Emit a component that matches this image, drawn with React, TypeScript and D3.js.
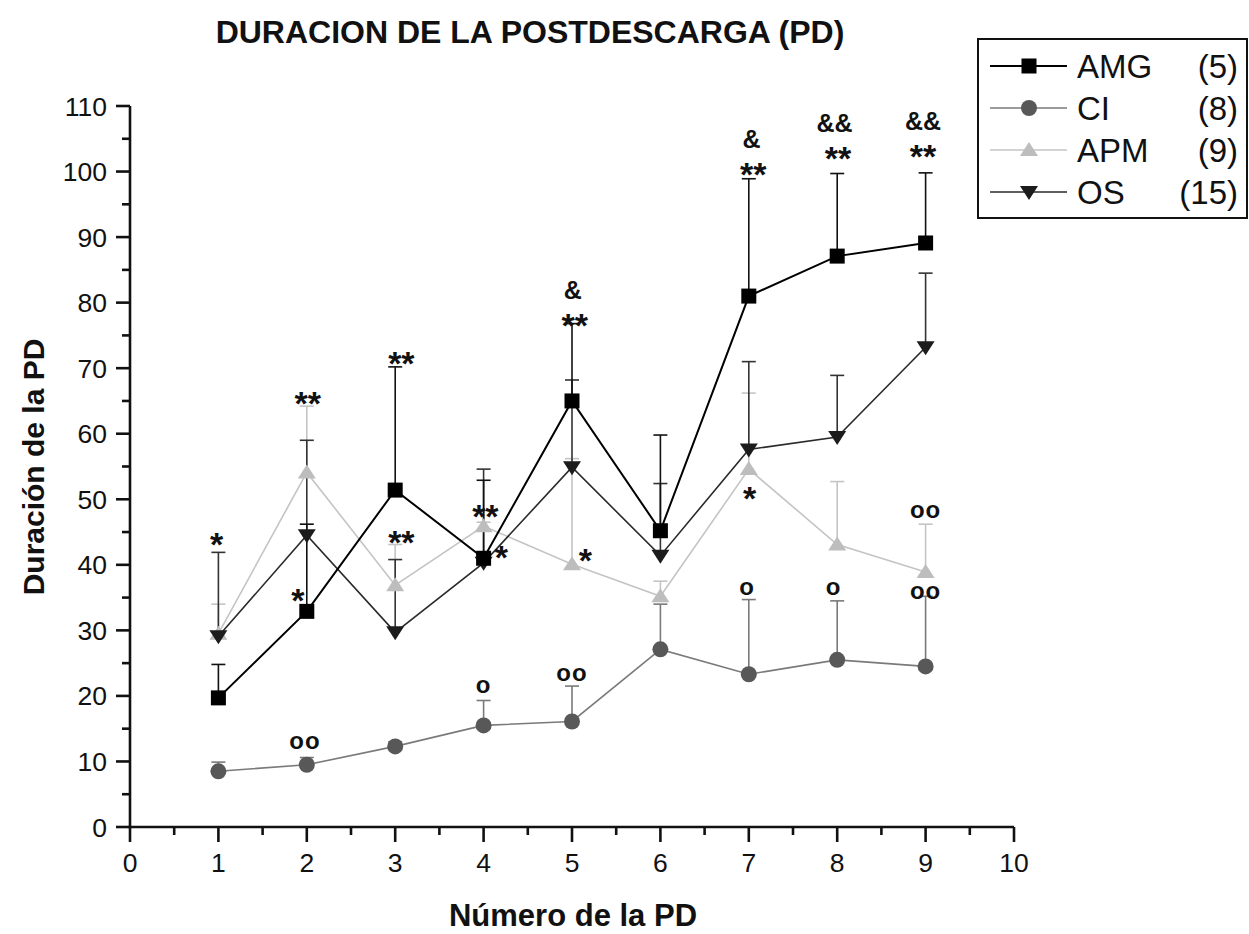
import React from "react";
import * as d3 from "d3";

// Número de PD (eje X)
const pdNumbers = [1, 2, 3, 4, 5, 6, 7, 8, 9];

// Medias y límite superior del error por grupo
const amgMean = [19.7, 32.9, 51.4, 41.0, 65.0, 45.2, 81.0, 87.1, 89.1];
const amgUpper = [24.8, 46.2, 70.2, 52.9, 76.8, 59.8, 98.9, 99.7, 99.8];
const ciMean = [8.5, 9.5, 12.3, 15.5, 16.1, 27.1, 23.3, 25.5, 24.5];
const ciUpper = [9.9, 10.6, 13.0, 19.3, 21.5, 34.0, 34.7, 34.5, 35.2];
const apmMean = [29.5, 54.1, 36.9, 45.9, 40.1, 35.2, 54.6, 43.1, 38.9];
const apmUpper = [34.0, 64.2, 43.1, 46.5, 56.2, 37.5, 66.2, 52.7, 46.2];
const osMean = [29.1, 44.5, 29.7, 40.3, 54.9, 41.4, 57.6, 59.5, 73.2];
const osUpper = [41.9, 59.0, 40.8, 54.6, 68.2, 52.4, 71.0, 68.9, 84.5];

const groupNames = ["AMG", "CI", "APM", "OS"];
const groupCounts = ["(5)", "(8)", "(9)", "(15)"];

const xTickValues = [0, 1, 2, 3, 4, 5, 6, 7, 8, 9, 10];
const yTickValues = [0, 10, 20, 30, 40, 50, 60, 70, 80, 90, 100, 110];

// Marcas de significación: posición (pd, valor) del centro del símbolo
const marks = [
  { pd: 0.98, value: 44.3, text: "*" },
  { pd: 2.01, value: 65.7, text: "**" },
  { pd: 1.9, value: 35.7, text: "*" },
  { pd: 1.98, value: 12.8, text: "oo" },
  { pd: 3.07, value: 71.8, text: "**" },
  { pd: 3.07, value: 44.6, text: "**" },
  { pd: 4.02, value: 48.5, text: "**" },
  { pd: 4.2, value: 42.3, text: "*" },
  { pd: 4.0, value: 21.4, text: "o" },
  { pd: 5.15, value: 41.8, text: "*" },
  { pd: 5.0, value: 23.2, text: "oo" },
  { pd: 7.01, value: 51.3, text: "*" },
  { pd: 6.98, value: 36.4, text: "o" },
  { pd: 7.96, value: 36.4, text: "o" },
  { pd: 9.0, value: 48.1, text: "oo" },
  { pd: 9.0, value: 35.7, text: "oo" },
  { pd: 5.03, value: 77.7, text: "**" },
  { pd: 7.05, value: 100.7, text: "**" },
  { pd: 8.01, value: 103.1, text: "**" },
  { pd: 8.97, value: 103.4, text: "**" },
  { pd: 5.01, value: 82.0, text: "&" },
  { pd: 7.03, value: 105.0, text: "&" },
  { pd: 7.97, value: 107.4, text: "&&" },
  { pd: 8.97, value: 107.7, text: "&&" },
];

const W = 1249;
const H = 934;
const FONT = "'Liberation Sans', Arial, Helvetica, sans-serif";

const x = d3.scaleLinear().domain([0, 10]).range([130, 1014]);
const y = d3.scaleLinear().domain([0, 110]).range([827, 106]);

type Shape = "square" | "circle" | "up" | "down";

interface Group {
  name: string;
  count: string;
  mean: number[];
  upper: number[];
  shape: Shape;
  fill: string;
  line: string;
  lineWidth: number;
  errColor: string;
}

const groups: Group[] = [
  { name: groupNames[2], count: groupCounts[2], mean: apmMean, upper: apmUpper, shape: "up", fill: "#bdbdbd", line: "#c4c4c4", lineWidth: 1.6, errColor: "#c4c4c4" },
  { name: groupNames[1], count: groupCounts[1], mean: ciMean, upper: ciUpper, shape: "circle", fill: "#585858", line: "#7a7a7a", lineWidth: 1.6, errColor: "#7a7a7a" },
  { name: groupNames[3], count: groupCounts[3], mean: osMean, upper: osUpper, shape: "down", fill: "#1c1c1c", line: "#2a2a2a", lineWidth: 1.6, errColor: "#333" },
  { name: groupNames[0], count: groupCounts[0], mean: amgMean, upper: amgUpper, shape: "square", fill: "#000", line: "#000", lineWidth: 2, errColor: "#111" },
];

const legendOrder = [3, 1, 0, 2];

function Marker({ shape, cx, cy, fill }: { shape: Shape; cx: number; cy: number; fill: string }) {
  if (shape === "square") return <rect x={cx - 7.5} y={cy - 7.5} width={15} height={15} fill={fill} />;
  if (shape === "circle") return <circle cx={cx} cy={cy} r={8} fill={fill} />;
  if (shape === "up")
    return <path d={`M${cx - 9},${cy + 6} L${cx + 9},${cy + 6} L${cx},${cy - 8} Z`} fill={fill} />;
  return <path d={`M${cx - 9},${cy - 6} L${cx + 9},${cy - 6} L${cx},${cy + 8} Z`} fill={fill} />;
}

// tamaño de letra y elevación del centro del glifo sobre la línea base
function markStyle(text: string) {
  if (text[0] === "*") return { size: 34, lift: 0.56 };
  if (text[0] === "&") return { size: 25, lift: 0.36 };
  return { size: 24, lift: 0.26 };
}

export default function App() {
  const line = d3
    .line<number>()
    .x((_, i) => x(pdNumbers[i]))
    .y((d) => y(d));

  const xMinor = d3.range(0.5, 10, 1);
  const yMinor = d3.range(5, 110, 10);

  return (
    <svg width={W} height={H} viewBox={`0 0 ${W} ${H}`} style={{ display: "block", position: "absolute", left: 0, top: 0, background: "#fff" }} fontFamily={FONT}>
      <rect width={W} height={H} fill="#fff" />

      <text x={530} y={43} textAnchor="middle" fontSize={32} fontWeight="bold" fill="#111">
        DURACION DE LA POSTDESCARGA (PD)
      </text>

      {/* error bars (upper only) */}
      {groups.map((g) => (
        <g key={`err-${g.name}`} stroke={g.errColor} strokeWidth={1.6} fill="none">
          {g.mean.map((m, i) => {
            const cx = x(pdNumbers[i]);
            return (
              <g key={i}>
                <line x1={cx} x2={cx} y1={y(m)} y2={y(g.upper[i])} />
                <line x1={cx - 7} x2={cx + 7} y1={y(g.upper[i])} y2={y(g.upper[i])} />
              </g>
            );
          })}
        </g>
      ))}

      {/* series lines and markers */}
      {groups.map((g) => (
        <g key={`s-${g.name}`}>
          <path d={line(g.mean) || ""} fill="none" stroke={g.line} strokeWidth={g.lineWidth} />
          {g.mean.map((m, i) => (
            <Marker key={i} shape={g.shape} cx={x(pdNumbers[i])} cy={y(m)} fill={g.fill} />
          ))}
        </g>
      ))}

      {/* significance marks */}
      {marks.map((mk, i) => {
        const st = markStyle(mk.text);
        return (
          <text
            key={i}
            x={x(mk.pd)}
            y={y(mk.value) + st.lift * st.size}
            textAnchor="middle"
            fontSize={st.size}
            fontWeight="bold"
            letterSpacing={mk.text[0] === "o" ? 1 : 0}
            fill="#111"
          >
            {mk.text}
          </text>
        );
      })}

      {/* axes */}
      <g stroke="#111" strokeWidth={2.6} fill="none">
        <line x1={130} x2={130} y1={y(110)} y2={y(0) + 1.3} />
        <line x1={128.7} x2={x(10)} y1={y(0)} y2={y(0)} />
        {yTickValues.map((v) => (
          <line key={`yt${v}`} x1={116} x2={130} y1={y(v)} y2={y(v)} />
        ))}
        {yMinor.map((v) => (
          <line key={`ym${v}`} x1={122} x2={130} y1={y(v)} y2={y(v)} />
        ))}
        {xTickValues.map((v) => (
          <line key={`xt${v}`} x1={x(v)} x2={x(v)} y1={y(0)} y2={y(0) + 15} />
        ))}
        {xMinor.map((v) => (
          <line key={`xm${v}`} x1={x(v)} x2={x(v)} y1={y(0)} y2={y(0) + 8} />
        ))}
      </g>
      {yTickValues.map((v) => (
        <text key={`yl${v}`} x={107} y={y(v) + 9.5} textAnchor="end" fontSize={26.5} fill="#111">
          {v}
        </text>
      ))}
      {xTickValues.map((v) => (
        <text key={`xl${v}`} x={x(v)} y={872} textAnchor="middle" fontSize={26.5} fill="#111">
          {v}
        </text>
      ))}

      <text x={573} y={926} textAnchor="middle" fontSize={31} fontWeight="bold" fill="#111">
        Número de la PD
      </text>
      <text transform="translate(44,467) rotate(-90)" textAnchor="middle" fontSize={30} fontWeight="bold" fill="#111">
        Duración de la PD
      </text>

      {/* legend */}
      <rect x={978} y={39} width={269} height={179} fill="#fff" stroke="#111" strokeWidth={2} />
      {legendOrder.map((gi, row) => {
        const g = groups[gi];
        const cy = 66 + row * 42;
        return (
          <g key={`lg-${g.name}`}>
            <line x1={990} x2={1067} y1={cy} y2={cy} stroke={g.line} strokeWidth={g.lineWidth} />
            <Marker shape={g.shape} cx={1029} cy={cy} fill={g.fill} />
            <text x={1077} y={cy + 11.5} fontSize={33} fill="#111">
              {g.name}
            </text>
            <text x={1238} y={cy + 11.5} textAnchor="end" fontSize={33} fill="#111">
              {g.count}
            </text>
          </g>
        );
      })}
    </svg>
  );
}
